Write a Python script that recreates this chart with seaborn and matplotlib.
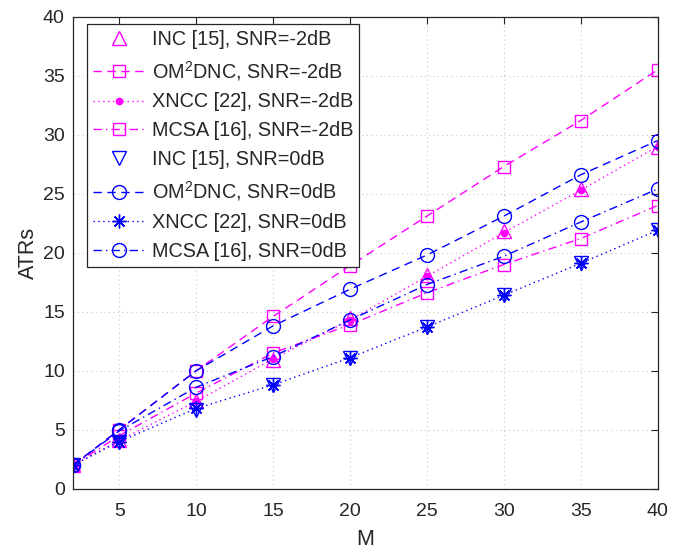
import numpy as np
import pandas as pd
import matplotlib
matplotlib.use("Agg")
import matplotlib.pyplot as plt
import seaborn as sns

M = [2, 5, 10, 15, 20, 25, 30, 35, 40]
inc_m2 = [2.0, 4.1, 7.4, 10.9, 14.5, 18.1, 21.8, 25.4, 29.0]
om2dnc_m2 = [2.0, 5.0, 10.0, 14.6, 18.9, 23.1, 27.3, 31.2, 35.5]
xncc_m2 = [2.0, 4.1, 7.4, 11.0, 14.3, 18.0, 21.7, 25.3, 29.0]
mcsa_m2 = [2.0, 4.5, 8.1, 11.5, 13.9, 16.6, 19.0, 21.2, 24.0]
inc_0 = [2.0, 4.0, 6.7, 8.8, 11.1, 13.7, 16.4, 19.1, 21.9]
om2dnc_0 = [2.0, 5.0, 10.0, 13.8, 16.9, 19.8, 23.1, 26.6, 29.5]
xncc_0 = [2.0, 4.0, 6.8, 8.8, 11.1, 13.7, 16.4, 19.1, 21.9]
mcsa_0 = [2.0, 4.9, 8.6, 11.2, 14.3, 17.3, 19.7, 22.6, 25.4]

labels = ["INC [15], SNR=-2dB", "OM$^2$DNC, SNR=-2dB", "XNCC [22], SNR=-2dB",
          "MCSA [16], SNR=-2dB", "INC [15], SNR=0dB", "OM$^2$DNC, SNR=0dB",
          "XNCC [22], SNR=0dB", "MCSA [16], SNR=0dB"]
series = [inc_m2, om2dnc_m2, xncc_m2, mcsa_m2, inc_0, om2dnc_0, xncc_0, mcsa_0]

MAG = "#FF00FF"
BLU = "#0000FF"
styles = [
    dict(color=MAG, linestyle="none", marker="^", markersize=10, mfc="none"),
    dict(color=MAG, linestyle=(0, (6, 4)), marker="s", markersize=9, mfc="none"),
    dict(color=MAG, linestyle=(0, (1, 2.5)), marker=".", markersize=9, mfc=MAG),
    dict(color=MAG, linestyle=(0, (6, 3, 1, 3)), marker="s", markersize=9, mfc="none"),
    dict(color=BLU, linestyle="none", marker="v", markersize=10, mfc="none"),
    dict(color=BLU, linestyle=(0, (6, 4)), marker="o", markersize=10, mfc="none"),
    dict(color=BLU, linestyle=(0, (1, 2.5)), marker=(8, 2, 0), markersize=10, mfc="none"),
    dict(color=BLU, linestyle=(0, (6, 3, 1, 3)), marker="o", markersize=10, mfc="none"),
]

sns.set_style("white")
plt.rcParams["font.family"] = ["Liberation Sans", "DejaVu Sans"]
plt.rcParams["mathtext.fontset"] = "custom"
plt.rcParams["mathtext.rm"] = "Liberation Sans"
plt.rcParams["mathtext.it"] = "Liberation Sans"

fig = plt.figure(figsize=(6.82, 5.50), dpi=100)
ax = fig.add_axes([73.2 / 682, 1 - 488.7 / 550, (657.6 - 73.2) / 682, (488.7 - 16.7) / 550])

for lab, ys, st in zip(labels, series, styles):
    df = pd.DataFrame({"M": M, "ATRs": ys})
    sns.lineplot(data=df, x="M", y="ATRs", ax=ax, color=st["color"],
                 linestyle=st["linestyle"], marker=st["marker"],
                 markersize=st["markersize"], markerfacecolor=st["mfc"],
                 markeredgecolor=st["color"], markeredgewidth=1.0,
                 linewidth=1.0, label=lab, estimator=None, sort=False)

ax.set_xlim(2, 40)
ax.set_ylim(0, 40)
ax.set_xticks([5, 10, 15, 20, 25, 30, 35, 40])
ax.set_yticks([0, 5, 10, 15, 20, 25, 30, 35, 40])
ax.grid(True, linestyle=(0, (1, 3)), color="#c8c8c8", linewidth=0.8)
ax.tick_params(direction="in", length=5, width=0.8, colors="#262626",
               labelsize=14, top=True, right=True)
ax.tick_params(axis="x", pad=10)
ax.tick_params(axis="y", pad=6)
for t in ax.get_xticklabels() + ax.get_yticklabels():
    t.set_color("#262626")
for sp in ax.spines.values():
    sp.set_color("#262626")
    sp.set_linewidth(0.9)
ax.set_xlabel("M", fontsize=15.5, color="#262626", labelpad=7)
ax.set_ylabel("ATRs", fontsize=15.5, color="#262626", labelpad=3)

leg = ax.legend(loc="upper left", bbox_to_anchor=(0.0236, 0.985), fontsize=14.3,
                frameon=True, fancybox=False, edgecolor="#262626", framealpha=1,
                handlelength=2.6, handletextpad=0.35, labelspacing=0.5,
                borderpad=0.3, borderaxespad=0.0)
leg.get_frame().set_linewidth(0.9)

fig.savefig("out.png", dpi=100)
